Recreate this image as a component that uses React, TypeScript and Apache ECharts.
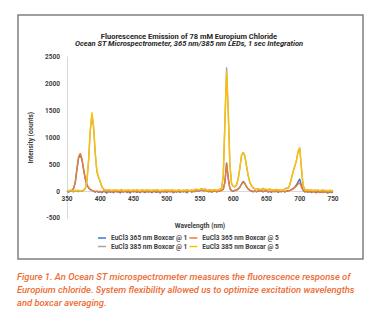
import React, { useEffect, useRef } from "react";
import * as echarts from "echarts";

const wavelengths = [
  350, 352.5, 355, 357.5, 360, 362.5, 365, 367.5, 370, 372.5,
  375, 377.5, 380, 382.5, 385, 387.5, 390, 392.5, 395, 397.5,
  400, 402.5, 405, 407.5, 410, 412.5, 415, 417.5, 420, 422.5,
  425, 427.5, 430, 432.5, 435, 437.5, 440, 442.5, 445, 447.5,
  450, 452.5, 455, 457.5, 460, 462.5, 465, 467.5, 470, 472.5,
  475, 477.5, 480, 482.5, 485, 487.5, 490, 492.5, 495, 497.5,
  500, 502.5, 505, 507.5, 510, 512.5, 515, 517.5, 520, 522.5,
  525, 527.5, 530, 532.5, 535, 537.5, 540, 542.5, 545, 547.5,
  550, 552.5, 555, 557.5, 560, 562.5, 565, 567.5, 570, 572.5,
  575, 577.5, 580, 582.5, 585, 587.5, 590, 592.5, 595, 597.5,
  600, 602.5, 605, 607.5, 610, 612.5, 615, 617.5, 620, 622.5,
  625, 627.5, 630, 632.5, 635, 637.5, 640, 642.5, 645, 647.5,
  650, 652.5, 655, 657.5, 660, 662.5, 665, 667.5, 670, 672.5,
  675, 677.5, 680, 682.5, 685, 687.5, 690, 692.5, 695, 697.5,
  700, 702.5, 705, 707.5, 710, 712.5, 715, 717.5, 720, 722.5,
  725, 727.5, 730, 732.5, 735, 737.5, 740, 742.5, 745, 747.5,
  750,
];

const eu365Box1 = [
  8, -12, 15, 22, 55, 170, 420, 630, 680, 590,
  400, 230, 120, 65, 35, 20, 8, -15, 10, -20,
  5, -25, 12, -8, -30, 10, -15, 6, -22, 14,
  -10, 8, -28, 4, -12, 18, -20, 2, -30, 10,
  -6, 12, -18, 5, -25, 15, -8, -20, 10, -12,
  6, -22, 14, -5, -16, 8, -28, 12, -10, 4,
  -18, 10, -6, 16, -24, 6, -12, 14, -20, 8,
  -8, 12, -26, 5, 18, -14, 8, -4, 20, 10,
  15, 25, 12, 30, 20, -5, 10, -12, 8, 15,
  -10, 5, 12, 20, 45, 180, 540, 240, 50, 15,
  10, 18, 25, 45, 80, 140, 190, 150, 85, 45,
  20, 8, -5, 12, -10, 15, 5, 20, -8, 10,
  18, -12, 6, -15, 10, -5, 14, -18, 8, -6,
  12, -10, 5, 15, 22, 35, 55, 80, 120, 180,
  235, 110, 25, -10, 5, -15, 8, -20, 4, -12,
  -25, 6, -18, -8, -22, 4, -15, -28, -10, -20,
  -15,
];

const eu365Box5 = [
  5, 2, 8, 18, 60, 180, 430, 650, 710, 610,
  410, 240, 130, 70, 40, 22, 12, 5, 2, -5,
  0, -6, -3, 2, -8, -4, 0, -6, -2, 3,
  -4, -8, -3, 0, -6, 2, -5, -9, -3, 1,
  -2, -6, -4, 0, -8, -3, 2, -5, -1, -7,
  -3, 1, -6, -2, 3, -4, -8, -2, 0, -5,
  -6, -2, 2, -4, -7, -1, 3, -3, -6, 0,
  2, -3, -5, 4, 6, 0, -2, 5, 12, 18,
  22, 28, 20, 14, 8, 2, -2, 4, 0, 6,
  2, 5, 10, 18, 40, 170, 520, 250, 55, 18,
  12, 20, 28, 48, 85, 135, 175, 145, 90, 48,
  25, 12, 6, 4, 2, 8, 10, 14, 6, 4,
  8, 2, 0, -3, 2, -2, 4, -4, 0, 2,
  4, 0, 6, 10, 18, 30, 48, 70, 100, 140,
  160, 85, 22, 5, 0, -4, -2, -6, -3, -8,
  -10, -6, -9, -5, -12, -8, -6, -10, -7, -9,
  -8,
];

const eu385Box1 = [
  12, -8, 20, 5, -10, 15, 8, -5, 18, 2,
  20, 55, 190, 580, 1120, 1420, 1180, 690, 360, 260,
  175, 85, 40, 30, 12, 35, 20, 8, 28, 15,
  30, 10, 22, 38, 5, 25, 15, 32, 8, 20,
  28, 12, 35, 18, 6, 30, 22, 10, 38, 16,
  24, 8, 30, 14, 36, 20, 5, 26, 12, 32,
  18, 28, 10, 34, 15, 22, 6, 30, 20, 12,
  26, 14, 35, 20, 8, 30, 18, 38, 45, 28,
  40, 55, 35, 48, 30, 22, 38, 16, 28, 34,
  20, 30, 45, 65, 290, 1320, 2310, 1480, 480, 140,
  95, 85, 120, 240, 440, 670, 730, 660, 470, 290,
  170, 105, 65, 50, 38, 55, 30, 45, 60, 35,
  42, 28, 50, 22, 36, 18, 40, 25, 32, 15,
  30, 45, 70, 55, 125, 245, 370, 470, 570, 740,
  810, 440, 115, 40, 25, 35, 18, 30, 12, 26,
  15, 28, 8, 22, 30, 10, 18, 5, 20, 12,
  16,
];

const eu385Box5 = [
  22, 18, 25, 20, 15, 20, 18, 22, 15, 20,
  25, 60, 210, 600, 1150, 1470, 1220, 720, 380, 270,
  180, 95, 50, 35, 28, 30, 25, 22, 28, 24,
  26, 20, 28, 24, 18, 25, 22, 28, 20, 24,
  27, 22, 30, 25, 18, 24, 28, 20, 26, 22,
  25, 18, 28, 22, 30, 24, 16, 26, 20, 28,
  22, 26, 18, 28, 20, 24, 16, 26, 22, 18,
  24, 20, 30, 25, 18, 28, 22, 32, 40, 30,
  38, 50, 42, 35, 28, 24, 30, 22, 26, 30,
  24, 28, 40, 60, 280, 1280, 2230, 1450, 490, 150,
  100, 90, 125, 245, 450, 680, 720, 650, 465, 295,
  175, 110, 70, 52, 42, 48, 35, 40, 50, 38,
  40, 32, 45, 28, 35, 24, 38, 28, 30, 22,
  28, 38, 60, 55, 120, 240, 365, 470, 575, 750,
  818, 430, 110, 42, 28, 30, 22, 28, 18, 24,
  20, 26, 15, 22, 25, 18, 20, 14, 22, 18,
  20,
];

const seriesNames = [
  "EuCl3 365 nm Boxcar @ 1",
  "EuCl3 365 nm Boxcar @ 5",
  "EuCl3 385 nm Boxcar @ 1",
  "EuCl3 385 nm Boxcar @ 5",
];
const seriesColors = ["#4472C4", "#ED7D31", "#A5A5A5", "#FFC000"];
const seriesValues = [eu365Box1, eu365Box5, eu385Box1, eu385Box5];

const chartTitle = "Fluorescence Emission of 78 mM Europium Chloride";
const chartSubtitle =
  "Ocean ST Microspectrometer, 365 nm/385 nm LEDs, 1 sec Integration";
const captionLines = [
  "Figure 1. An Ocean ST microspectrometer measures the fluorescence response of",
  "Europium chloride. System flexibility allowed us to optimize excitation wavelengths",
  "and boxcar averaging.",
];

const FONT = "Roboto, 'Noto Sans', sans-serif";

export default function App() {
  const ref = useRef<HTMLDivElement>(null);

  useEffect(() => {
    if (!ref.current) return;
    const chart = echarts.init(ref.current, null, { renderer: "svg" });

    const legendText = {
      fontSize: 6.6,
      fontWeight: "bold" as const,
      color: "#404040",
      fontFamily: FONT,
    };

    // grid: y=2500 at 57px, y=-500 at 218.4px -> zero line sits 26.9px above bottom
    const zeroOffset = -26.9;

    const option: any = {
      animation: false,
      backgroundColor: "#ffffff",
      textStyle: { fontFamily: FONT },
      title: [
        {
          text: chartTitle,
          left: "center",
          top: 32,
          padding: 0,
          textStyle: {
            fontSize: 7.5,
            fontWeight: "bold",
            color: "#262626",
            fontFamily: FONT,
            lineHeight: 8,
          },
        },
        {
          text: chartSubtitle,
          left: "center",
          top: 39.5,
          padding: 0,
          textStyle: {
            fontSize: 7.5,
            fontWeight: "bold",
            fontStyle: "italic",
            color: "#262626",
            fontFamily: FONT,
            lineHeight: 8,
          },
        },
      ],
      legend: [
        {
          data: [seriesNames[0], seriesNames[1]],
          left: 98,
          top: 234.5,
          padding: 0,
          itemGap: 2,
          itemWidth: 8,
          itemHeight: 1.5,
          icon: "rect",
          textStyle: legendText,
          selectedMode: false,
        },
        {
          data: [seriesNames[2], seriesNames[3]],
          left: 98,
          top: 243,
          padding: 0,
          itemGap: 2,
          itemWidth: 8,
          itemHeight: 1.5,
          icon: "rect",
          textStyle: legendText,
          selectedMode: false,
        },
      ],
      grid: { left: 67, right: 45, top: 57, bottom: 111.6, containLabel: false },
      xAxis: {
        type: "value",
        position: "bottom",
        offset: zeroOffset,
        min: 350,
        max: 750,
        interval: 50,
        name: "Wavelength (nm)",
        nameLocation: "middle",
        nameGap: 31,
        nameTextStyle: {
          fontSize: 6.6,
          fontWeight: "bold",
          color: "#404040",
          fontFamily: FONT,
        },
        axisLine: { onZero: false, lineStyle: { color: "#D9D9D9", width: 1 } },
        axisTick: { show: false },
        splitLine: { show: false },
        axisLabel: {
          fontSize: 6.5,
          fontWeight: "bold",
          color: "#404040",
          margin: 4,
          fontFamily: FONT,
          showMinLabel: true,
          showMaxLabel: true,
          formatter: (v: number) => String(v),
        },
      },
      yAxis: {
        type: "value",
        min: -500,
        max: 2500,
        interval: 500,
        name: "Intensity (counts)",
        nameLocation: "middle",
        nameGap: 26,
        nameTextStyle: {
          fontSize: 6.5,
          fontWeight: "bold",
          color: "#404040",
          fontFamily: FONT,
        },
        axisLine: { show: true, onZero: false, lineStyle: { color: "#D9D9D9", width: 1 } },
        axisTick: { show: false },
        splitLine: { show: false },
        axisLabel: {
          fontSize: 6.5,
          fontWeight: "bold",
          color: "#404040",
          margin: 7,
          fontFamily: FONT,
          showMinLabel: true,
          showMaxLabel: true,
          hideOverlap: false,
          formatter: (v: number) => String(v),
        },
      },
      series: seriesNames.map((name, s) => ({
        name,
        type: "line",
        showSymbol: false,
        symbol: "none",
        color: seriesColors[s],
        lineStyle: { width: 1.4, color: seriesColors[s] },
        data: wavelengths.map((w, i) => [w, seriesValues[s][i]]),
        z: 2 + s,
      })),
      graphic: [
        {
          type: "rect",
          shape: { x: 18, y: 15, width: 345, height: 244 },
          style: { fill: "none", stroke: "#7F7F7F", lineWidth: 1.5 },
          silent: true,
        },
        ...captionLines.map((line, k) => ({
          type: "text",
          x: 17,
          y: 276 + k * 13.3,
          style: {
            text: line,
            fill: "#EC6B34",
            font: `italic 500 9.4px ${FONT}`,
            verticalAlign: "middle",
            align: "left",
          },
          silent: true,
        })),
      ],
    };

    chart.setOption(option);
    return () => chart.dispose();
  }, []);

  return (
    <div
      ref={ref}
      style={{
        position: "absolute",
        left: 0,
        top: 0,
        width: 378,
        height: 330,
        background: "#ffffff",
      }}
    />
  );
}
